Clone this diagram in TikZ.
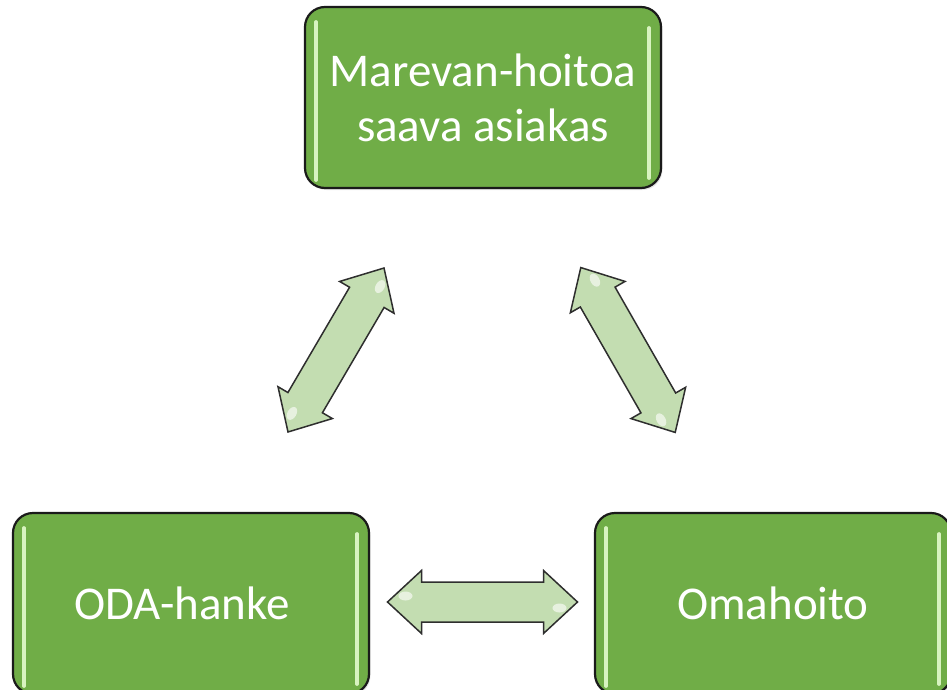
\documentclass[tikz,border=0pt]{standalone}
\usepackage{fontspec}
\setmainfont{Carlito}
\usetikzlibrary{calc,shadows}
\definecolor{boxgreen}{HTML}{70AD47}
\definecolor{arrowfill}{HTML}{C3DDB1}
\definecolor{hilite}{HTML}{D8F3C0}
\definecolor{boxline}{HTML}{1A1A1A}
\definecolor{arrowline}{HTML}{2E2E2E}
\tikzset{
  box/.style={draw=boxline, line width=2.2pt, rounded corners=20pt, fill=boxgreen,
    minimum width=356pt, minimum height=181pt, text=white,
    font=\fontsize{47}{55}\selectfont, align=center, inner sep=0pt,
    drop shadow={opacity=0.2, shadow xshift=1.5pt, shadow yshift=-2pt}},
  blockarrow/.style={draw=arrowline, line width=1.5pt, fill=arrowfill, line join=miter},
  gloss/.style={draw=hilite, line width=3.5pt, line cap=round},
  shine/.style={fill=white, opacity=0.6},
  dblarrow/.pic={
    \draw[blockarrow] (-95,0) -- (-61,-31.5) -- (-61,-20) -- (61,-20) -- (61,-31.5)
      -- (95,0) -- (61,31.5) -- (61,20) -- (-61,20) -- (-61,31.5) -- cycle;
    \fill[shine] (-77,-6) ellipse [x radius=7, y radius=4.5];
    \fill[shine] (77,6) ellipse [x radius=7, y radius=4.5];
  }
}
\begin{document}
\begin{tikzpicture}[x=1pt,y=-1pt]
\useasboundingbox (0,0) rectangle (947,690);
\clip (0,0) rectangle (947,690);

\node[box] (top) at (483,97.5) {Marevan-hoitoa\\saava asiakas};
\node[box] (oda) at (191,603.5) {ODA-hanke\hspace*{18pt}};
\node[box] (oma) at (773,603.5) {Omahoito};

\foreach \b in {top,oda,oma}{
  \draw[gloss] ($(\b.north west)+(12,16)$) -- ($(\b.south west)+(12,-9)$);
  \draw[gloss] ($(\b.north east)+(-13,22)$) -- ($(\b.south east)+(-13,-11)$);
}

\coordinate (a1) at (336,350);
\coordinate (a2) at (628,350);
\coordinate (a3) at (482.5,602);
\pic[rotate=59.65] at (a1) {dblarrow};
\pic[rotate=119.8] at (a2) {dblarrow};
\pic at (a3) {dblarrow};
\end{tikzpicture}
\end{document}
